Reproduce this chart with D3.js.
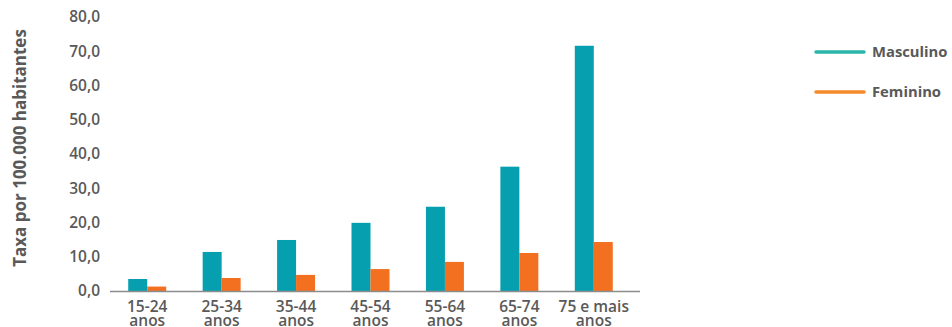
<!DOCTYPE html>
<html>
<head>
<meta charset="utf-8">
<script src="https://cdn.jsdelivr.net/npm/d3@7"></script>
<style>
  body { margin: 0; background: #fff; }
  text { font-family: "Open Sans", sans-serif; }
</style>
</head>
<body>
<div id="vis"></div>
<script>
// data
let categories = ['15-24 anos', '25-34 anos', '35-44 anos', '45-54 anos', '55-64 anos', '65-74 anos', '75 e mais anos']
let masculino = [3.5, 11.4, 14.9, 19.9, 24.6, 36.3, 71.6]
let feminino = [1.3, 3.8, 4.7, 6.4, 8.5, 11.1, 14.3]
let seriesNames = ['Masculino', 'Feminino']
let yTicks = [0, 10, 20, 30, 40, 50, 60, 70, 80]

let width = 952, height = 327
let margin = { top: 17, left: 110, right: 321, bottom: 36 }

let colors = { Masculino: '#069fb0', Feminino: '#f37021' }
let legendColors = { Masculino: '#2cb5ab', Feminino: '#f58a2c' }

let svg = d3.select('#vis')
  .append('svg')
  .attr('width', width)
  .attr('height', height)

let x0 = d3.scaleBand()
  .domain(categories)
  .range([margin.left, width - margin.right])
  .paddingInner(0)
  .paddingOuter(0)

let x1 = d3.scaleBand()
  .domain(seriesNames)
  .range([0, x0.bandwidth()])
  .paddingInner(0)
  .paddingOuter(0.96)

let y = d3.scaleLinear()
  .domain([0, 80])
  .range([height - margin.bottom, margin.top])

let rows = categories.map(function (c, i) {
  return { cat: c, Masculino: masculino[i], Feminino: feminino[i] }
})

// bars
let groups = svg.selectAll('g.grp')
  .data(rows)
  .enter()
  .append('g')
  .attr('class', 'grp')
  .attr('transform', function (d) { return 'translate(' + x0(d.cat) + ',0)' })

groups.selectAll('rect')
  .data(function (d) { return seriesNames.map(function (s) { return { key: s, value: d[s] } }) })
  .enter()
  .append('rect')
  .attr('x', function (d) { return x1(d.key) })
  .attr('width', x1.bandwidth())
  .attr('y', function (d) { return y(d.value) })
  .attr('height', function (d) { return y(0) - y(d.value) })
  .attr('fill', function (d) { return colors[d.key] })

// y axis (labels only)
let yAxis = svg.append('g')
  .attr('transform', 'translate(' + (margin.left - 10) + ',0)')
  .call(d3.axisLeft(y).tickValues(yTicks).tickSize(0).tickPadding(0)
    .tickFormat(function (d) { return d3.format('.1f')(d).replace('.', ',') }))
yAxis.select('.domain').remove()
yAxis.selectAll('text')
  .attr('fill', '#595959')
  .style('font-size', '15.5px')
  .style('font-weight', 600)
  .style('font-family', '"Open Sans", sans-serif')

// x axis line
svg.append('line')
  .attr('x1', margin.left)
  .attr('x2', 640)
  .attr('y1', y(0) + 0.5)
  .attr('y2', y(0) + 0.5)
  .attr('stroke', '#8c8c8c')
  .attr('stroke-width', 1.5)

// x labels, two lines
let xAxis = svg.append('g')
  .attr('transform', 'translate(0,' + y(0) + ')')
  .call(d3.axisBottom(x0).tickSize(0).tickFormat(''))
xAxis.select('.domain').remove()
xAxis.selectAll('.tick').append('text')
  .attr('fill', '#595959')
  .attr('text-anchor', 'middle')
  .style('font-size', '15.5px')
  .style('font-weight', 600)
  .each(function (d) {
    let words = d.split(' ')
    let last = words.pop()
    let t = d3.select(this)
    t.append('tspan').attr('x', 0).attr('y', 21).text(words.join(' '))
    t.append('tspan').attr('x', 0).attr('y', 35).text(last)
  })

// y axis title
svg.append('text')
  .attr('transform', 'translate(26,' + 148 + ') rotate(-90)')
  .attr('text-anchor', 'middle')
  .attr('fill', '#595959')
  .style('font-size', '17px')
  .style('font-weight', 'bold')
  .text('Taxa por 100.000 habitantes')

// legend
let legend = svg.selectAll('g.leg')
  .data(seriesNames)
  .enter()
  .append('g')
  .attr('class', 'leg')
  .attr('transform', function (d, i) { return 'translate(816,' + (52 + i * 40) + ')' })
legend.append('line')
  .attr('x1', 0).attr('x2', 48)
  .attr('stroke', function (d) { return legendColors[d] })
  .attr('stroke-width', 3.5)
  .attr('stroke-linecap', 'round')
legend.append('text')
  .attr('x', 56)
  .attr('dy', '0.35em')
  .attr('fill', '#595959')
  .style('font-size', '14.8px')
  .style('font-weight', 'bold')
  .text(function (d) { return d })
</script>
</body>
</html>
